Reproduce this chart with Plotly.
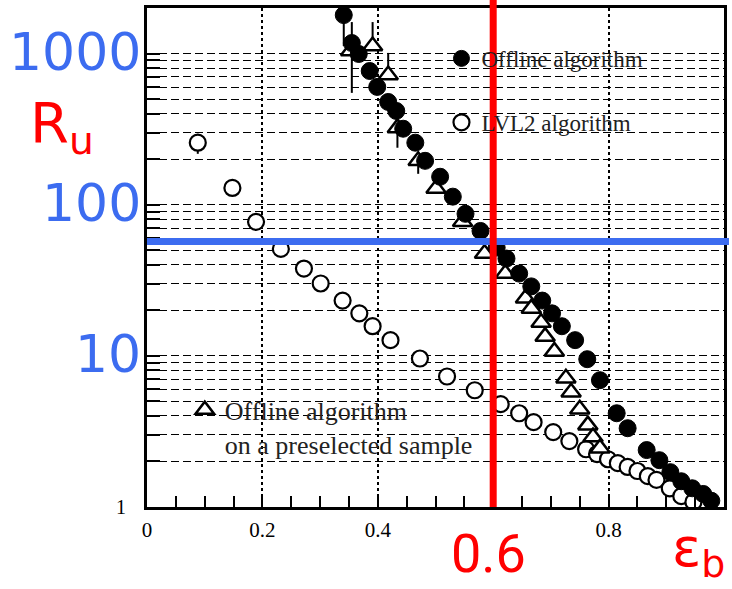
import numpy as np
import plotly.graph_objects as go

# ---------------- data ----------------
offline_x = [0.341, 0.355, 0.367, 0.386, 0.399, 0.418, 0.432, 0.444, 0.465, 0.482,
             0.508, 0.530, 0.552, 0.578, 0.606, 0.623, 0.645, 0.666, 0.685, 0.702,
             0.719, 0.742, 0.763, 0.785, 0.814, 0.833, 0.866, 0.888, 0.907, 0.926,
             0.945, 0.964, 0.978]
offline_y = [1795, 1173, 993, 766, 601, 478, 417, 318, 257, 195,
             153, 113, 87, 67, 52, 44, 35, 28.8, 23.2, 19.1,
             15.7, 12.7, 9.5, 6.9, 4.17, 3.32, 2.38, 2.04, 1.70, 1.48,
             1.33, 1.22, 1.10]
offline_hi = [0, 1614] + [0] * 31
offline_lo = [1122, 549] + [0] * 31

lvl2_x = [0.088, 0.148, 0.189, 0.232, 0.272, 0.301, 0.339, 0.368, 0.391, 0.422,
          0.473, 0.520, 0.568, 0.613, 0.645, 0.670, 0.704, 0.732, 0.761, 0.780,
          0.799, 0.816, 0.833, 0.850, 0.868, 0.883, 0.906, 0.926, 0.947]
lvl2_y = [257, 129, 77, 51, 37.8, 30.1, 23.2, 19.1, 15.7, 12.7,
          9.6, 7.3, 5.92, 4.79, 4.17, 3.64, 3.13, 2.73, 2.41, 2.24,
          2.07, 1.95, 1.84, 1.73, 1.60, 1.51, 1.33, 1.18, 1.08]
lvl2_hi = [294] + [0] * 28
lvl2_lo = [217] + [0] * 28

presel_x = [0.353, 0.391, 0.418, 0.434, 0.470, 0.501, 0.547, 0.585, 0.621, 0.656,
            0.666, 0.683, 0.690, 0.706, 0.726, 0.735, 0.750, 0.764, 0.773, 0.785]
presel_y = [1039, 1121, 721, 322, 195, 128, 77, 47.5, 35, 24,
            20.6, 16.6, 13.4, 10.7, 7.1, 5.74, 4.43, 3.48, 2.90, 2.45]
presel_hi = [0, 1614, 1009] + [0] * 17
presel_lo = [0, 0, 0, 238, 160] + [0] * 15

x_tickvals = [0, 0.2, 0.4, 0.6, 0.8]
x_ticktext = ["0", "0.2", "0.4", "", "0.8"]
y_decade_labels = [10, 100, 1000]
eff_cut = 0.6
rate_cut = 57

# ---------------- helpers ----------------
def err(vals, bounds, upper=True):
    out = []
    for v, b in zip(vals, bounds):
        if b == 0:
            out.append(0)
        else:
            out.append((b - v) if upper else (v - b))
    return out

BLUE = "#3c6cf0"
RED = "#ff0000"
SERIF = "Liberation Serif"

fig = go.Figure()

fig.add_trace(go.Scatter(
    x=lvl2_x, y=lvl2_y, mode="markers", name="LVL2 algorithm",
    marker=dict(symbol="circle", size=16, color="white",
                line=dict(color="black", width=2.2)),
    error_y=dict(type="data", symmetric=False,
                 array=err(lvl2_y, lvl2_hi, True),
                 arrayminus=err(lvl2_y, lvl2_lo, False),
                 color="black", thickness=2, width=0),
    legend="legend", legendrank=2, legendgroup="lvl2",
))
fig.add_trace(go.Scatter(
    x=presel_x, y=presel_y, mode="markers",
    name="Offline algorithm<br>on a preselected sample",
    marker=dict(symbol="triangle-up", size=17, color="white",
                line=dict(color="black", width=2.5)),
    error_y=dict(type="data", symmetric=False,
                 array=err(presel_y, presel_hi, True),
                 arrayminus=err(presel_y, presel_lo, False),
                 color="black", thickness=2, width=0),
    legend="legend2",
))
fig.add_trace(go.Scatter(
    x=offline_x, y=offline_y, mode="markers", name="Offline algorithm",
    marker=dict(symbol="circle", size=17, color="black",
                line=dict(color="black", width=1)),
    error_y=dict(type="data", symmetric=False,
                 array=err(offline_y, offline_hi, True),
                 arrayminus=err(offline_y, offline_lo, False),
                 color="black", thickness=2, width=0),
    legend="legend", legendrank=1, legendgroup="off",
))

# y grid / tick positions on log scale
y_grid = []
for dec in [1, 10, 100, 1000]:
    for m in range(1, 10):
        v = m * dec
        if v <= 2000:
            y_grid.append(v)
y_ticktext = ["1"] + [""] * (len(y_grid) - 1)

fig.update_layout(
    width=732, height=589,
    margin=dict(l=147, r=5, t=7, b=82),
    paper_bgcolor="white", plot_bgcolor="white",
    showlegend=True,
    legend=dict(x=(443 - 147) / 580, y=(507 - 36) / 500, xanchor="left", yanchor="top",
                bgcolor="rgba(0,0,0,0)", font=dict(family=SERIF, size=23, color="#222"),
                tracegroupgap=31, itemwidth=30),
    legend2=dict(x=(185 - 147) / 580, y=(507 - 386) / 500, xanchor="left", yanchor="top",
                 bgcolor="rgba(0,0,0,0)", font=dict(family=SERIF, size=26, color="#222"),
                 valign="top", itemwidth=30),
    xaxis=dict(
        range=[0, 1.0], tickmode="array", tickvals=x_tickvals, ticktext=x_ticktext,
        showgrid=True, gridcolor="black", griddash="dot", gridwidth=1.5,
        ticks="inside", ticklen=13, tickwidth=1.5, tickcolor="black",
        minor=dict(dtick=0.05, tick0=0, ticks="inside", ticklen=11, tickwidth=1.5,
                   tickcolor="black", showgrid=False),
        showline=True, linecolor="black", linewidth=3, mirror=True,
        tickfont=dict(family=SERIF, size=21, color="black"),
        ticklabelstandoff=2, zeroline=False,
    ),
    yaxis=dict(
        type="log", range=[0, np.log10(2000)],
        tickmode="array", tickvals=y_grid, ticktext=y_ticktext,
        showgrid=True, gridcolor="black", griddash="8px,4px", gridwidth=1.3,
        ticks="inside", ticklen=13, tickwidth=1.5, tickcolor="black",
        showline=True, linecolor="black", linewidth=3, mirror=True,
        tickfont=dict(family=SERIF, size=20, color="black"),
        ticklabelstandoff=14, zeroline=False,
    ),
)

annotations = []
for v in y_decade_labels:
    annotations.append(dict(
        x=0, xref="paper", xanchor="right", xshift=-4,
        y=np.log10(v), yref="y", yanchor="middle", yshift=2,
        text=str(v), showarrow=False,
        font=dict(family="DejaVu Sans", size=52, color=BLUE),
    ))
annotations.append(dict(
    x=(27 - 147) / 580, xref="paper", xanchor="left",
    y=(507 - 126) / 500, yref="paper", yanchor="middle",
    text="R<sub>u</sub>", showarrow=False,
    font=dict(family="DejaVu Sans", size=56, color=RED),
))
annotations.append(dict(
    x=0.592, xref="x", xanchor="center",
    y=(507 - 554) / 500, yref="paper", yanchor="middle",
    text=str(eff_cut), showarrow=False,
    font=dict(family="Roboto", size=54, color=RED),
))
annotations.append(dict(
    x=(730 - 147) / 580, xref="paper", xanchor="right",
    y=(507 - 588) / 500, yref="paper", yanchor="bottom",
    text="ε<sub>b</sub>", showarrow=False,
    font=dict(family="DejaVu Sans", size=54, color=RED),
))
fig.update_layout(annotations=annotations)

fig.add_shape(type="line", xref="paper", yref="y",
              x0=0, x1=(732 - 147) / 580,
              y0=rate_cut, y1=rate_cut,
              line=dict(color=BLUE, width=7), layer="above")
fig.add_shape(type="line", xref="x", yref="paper",
              x0=eff_cut, x1=eff_cut, y0=0, y1=1 + 8 / 500,
              line=dict(color=RED, width=7), layer="above")

fig.write_html("out.html")
